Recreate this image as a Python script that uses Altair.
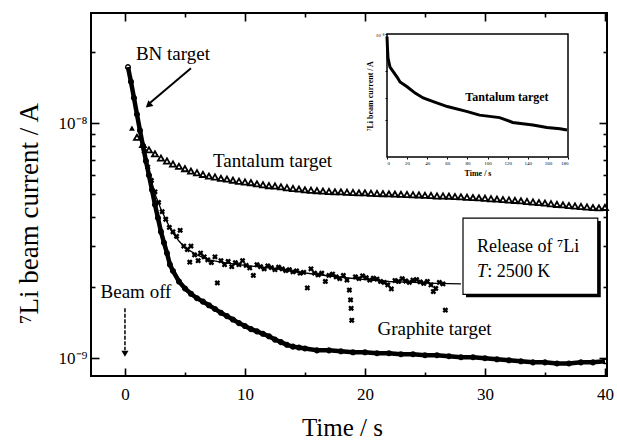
import altair as alt
import pandas as pd

FONT = "Liberation Serif"
W, H = 516, 363

# ---------------- data (currents in units of 1e-9 A) ----------------
# Tantalum target (open triangles)
ta_t = [1.0, 1.5, 2.0, 2.5, 3.0, 3.5, 4.0, 4.5, 5.0, 5.5,
        6.0, 6.5, 7.0, 7.5, 8.0, 8.5, 9.0, 9.5, 10.0, 10.5,
        11.0, 11.5, 12.0, 12.5, 13.0, 13.5, 14.0, 14.5, 15.0, 15.5,
        16.0, 16.5, 17.0, 17.5, 18.0, 18.5, 19.0, 19.5, 20.0, 20.5,
        21.0, 21.5, 22.0, 22.5, 23.0, 23.5, 24.0, 24.5, 25.0, 25.5,
        26.0, 26.5, 27.0, 27.5, 28.0, 28.5, 29.0, 29.5, 30.0, 30.5,
        31.0, 31.5, 32.0, 32.5, 33.0, 33.5, 34.0, 34.5, 35.0, 35.5,
        36.0, 36.5, 37.0, 37.5, 38.0, 38.5, 39.0, 39.5, 40.0]
ta_v = [8.7, 8.1, 7.7, 7.4, 7.1, 6.9, 6.7, 6.55, 6.4, 6.25,
        6.15, 6.05, 5.95, 5.9, 5.82, 5.78, 5.72, 5.66, 5.62, 5.58,
        5.52, 5.47, 5.42, 5.40, 5.36, 5.31, 5.27, 5.24, 5.20, 5.18,
        5.16, 5.14, 5.12, 5.10, 5.10, 5.08, 5.07, 5.05, 5.05, 5.03,
        5.02, 5.01, 5.00, 4.99, 4.98, 4.97, 4.96, 4.95, 4.93, 4.92,
        4.90, 4.90, 4.89, 4.87, 4.86, 4.84, 4.82, 4.81, 4.79, 4.77,
        4.75, 4.73, 4.71, 4.69, 4.67, 4.64, 4.62, 4.59, 4.57, 4.54,
        4.51, 4.49, 4.46, 4.44, 4.42, 4.40, 4.37, 4.36, 4.38]
ta_first_t = [0.58]
ta_first_v = [9.52]

# BN target: fitted line and scattered x markers
bn_fit_t = [0.25, 0.5, 0.75, 1.0, 1.25, 1.5, 1.75, 2.0, 2.5, 3.0, 3.5, 4.0, 4.5, 5.0,
            6.0, 7.0, 8.0, 9.0, 10.0, 12.0, 14.0, 16.0, 18.0, 20.0, 22.0, 24.0, 26.0, 28.0]
bn_fit_v = [17.3, 15.0, 12.8, 10.8, 9.2, 8.0, 6.9, 6.1, 5.0, 4.3, 3.8, 3.4, 3.15, 2.95,
            2.75, 2.62, 2.56, 2.52, 2.48, 2.42, 2.34, 2.27, 2.21, 2.16, 2.12, 2.10, 2.08, 2.07]
bn_t = [1.6, 1.9, 2.2, 2.5, 2.8, 3.1, 3.4, 3.7, 4.0, 4.3,
        4.6, 4.9, 5.2, 5.4, 5.5, 5.8, 6.1, 6.3, 6.6, 6.9,
        7.2, 7.5, 7.7, 8.0, 8.3, 8.6, 8.9, 9.2, 9.5, 9.8,
        10.1, 10.4, 10.7, 11.0, 11.3, 11.6, 11.9, 12.2, 12.5, 12.8,
        13.1, 13.4, 13.7, 14.0, 14.3, 14.6, 14.9, 15.2, 15.5, 15.8,
        16.1, 16.4, 16.7, 17.0, 17.3, 17.6, 17.9, 18.2, 18.5, 18.7,
        18.8, 18.85, 18.9, 19.2, 19.5, 19.8, 20.1, 20.4, 20.7, 21.0,
        21.3, 21.6, 21.9, 22.2, 22.5, 22.8, 23.1, 23.4, 23.7, 24.0,
        24.3, 24.6, 24.9, 25.2, 25.5, 25.7, 25.9, 26.2, 26.5, 26.7]
bn_v = [7.6, 6.5, 5.7, 5.1, 4.6, 4.2, 3.9, 3.6, 3.45, 3.3,
        3.5, 3.0, 2.9, 2.56, 3.0, 2.75, 2.6, 2.8, 2.7, 2.62,
        2.55, 2.7, 2.09, 2.6, 2.5, 2.58, 2.45, 2.55, 2.5, 2.6,
        2.48, 2.42, 2.25, 2.5, 2.45, 2.4, 2.47, 2.43, 2.38, 2.44,
        2.40, 2.36, 2.38, 2.33, 2.35, 2.30, 2.32, 1.99, 2.40, 2.30,
        2.26, 2.30, 2.12, 2.25, 2.28, 2.22, 2.18, 2.25, 2.15, 1.95,
        1.77, 1.63, 1.45, 2.22, 2.18, 2.24, 2.20, 2.15, 2.19, 2.17,
        2.12, 2.10, 2.05, 1.97, 2.14, 2.12, 2.18, 2.13, 2.10, 2.15,
        2.16, 2.11, 2.08, 2.12, 2.05, 1.92, 1.98, 2.10, 2.07, 1.60]

# Graphite target (dense open circles)
gr_t = [0.25, 0.5, 0.75, 1.0, 1.25, 1.5, 1.75, 2.0,
        2.25, 2.5, 2.75, 3.0, 3.25, 3.5, 3.75, 4.0,
        4.5, 5.0, 5.5, 6.0, 6.5, 7.0, 7.5, 8.0, 8.5, 9.0, 9.5, 10.0, 10.5, 11.0,
        11.5, 12.0, 12.5, 13.0, 13.5, 14.0, 14.5, 15.0,
        16.0, 17.0, 18.0, 19.0, 20.0, 21.0, 22.0, 23.0, 24.0, 25.0, 26.0, 27.0,
        28.0, 29.0, 30.0, 31.0, 32.0, 33.0, 34.0, 35.0, 36.0, 37.0, 38.0, 39.0, 40.0]
gr_v = [17.3, 15.0, 12.8, 10.9, 9.3, 8.0, 6.9, 6.0,
        5.2, 4.5, 3.95, 3.45, 3.1, 2.8, 2.5, 2.35,
        2.12, 1.98, 1.88, 1.80, 1.74, 1.68, 1.62, 1.56, 1.51, 1.46, 1.41, 1.37, 1.33, 1.30,
        1.27, 1.24, 1.20, 1.17, 1.14, 1.12, 1.11, 1.10,
        1.08, 1.08, 1.07, 1.06, 1.06, 1.05, 1.05, 1.04, 1.04, 1.03, 1.03, 1.02,
        1.01, 1.01, 1.00, 0.99, 0.98, 0.97, 0.96, 0.96, 0.95, 0.95, 0.96, 0.96, 0.97]

# Inset: tantalum target, long time scale
in_t = [0, 0.5, 1, 3, 10, 13, 20, 28, 36, 46, 60, 80, 92, 112, 125, 145, 159, 172, 179]
in_v = [9.55, 7.59, 6.38, 5.37, 4.47, 4.07, 3.72, 3.31, 3.02, 2.82, 2.57, 2.34, 2.19,
        2.09, 1.91, 1.82, 1.74, 1.70, 1.66]
in_xticks = [0, 20, 40, 60, 80, 100, 120, 140, 160, 180]
in_yticks = [2e-9, 3e-9, 5e-9, 1e-8]

# axes
x_domain = [-2.83, 40.17]
y_domain = [0.84e-9, 2.94e-8]
x_ticks = [0, 5, 10, 15, 20, 25, 30, 35, 40]
y_ticks = [1e-9, 2e-9, 3e-9, 4e-9, 5e-9, 6e-9, 7e-9, 8e-9, 9e-9, 1e-8, 2e-8]

# annotations
lab_text = ["BN target", "Tantalum target", "Graphite target", "Beam off"]
lab_t = [4.0, 12.3, 25.8, 0.92]
lab_v = [19.7, 6.89, 1.33, 1.91]

box_t = [28.17, 39.4]
box_v = [1.87, 3.94]
shadow_t = [28.42, 39.65]
shadow_v = [1.815, 3.83]


def nA(vals):
    return [v * 1e-9 for v in vals]


ta_df = pd.DataFrame({"t": ta_t, "v": nA(ta_v)})
ta1_df = pd.DataFrame({"t": ta_first_t, "v": nA(ta_first_v)})
bnf_df = pd.DataFrame({"t": bn_fit_t, "v": nA(bn_fit_v)})
bn_df = pd.DataFrame({"t": bn_t, "v": nA(bn_v)})
gr_df = pd.DataFrame({"t": gr_t, "v": nA(gr_v)})
in_df = pd.DataFrame({"t": in_t, "v": nA(in_v)})
lab_df = pd.DataFrame({"t": lab_t, "v": nA(lab_v), "label": lab_text})

xs = alt.Scale(domain=x_domain, nice=False, zero=False)
ys = alt.Scale(type="log", domain=y_domain, nice=False)

x_major = "datum.value % 10 === 0"
y_major = "datum.value === 1e-9 || datum.value === 1e-8"


def tick_axis(orient, offset, values, major):
    return alt.Axis(orient=orient, offset=offset, values=values, labels=False,
                    domain=False, grid=False, title=None,
                    tickSize={"condition": {"test": major, "value": 8}, "value": 4},
                    tickWidth=1.6, tickColor="black")


x_lab_axis = alt.Axis(orient="bottom", values=x_ticks, ticks=False, domain=False, grid=False,
                      labelExpr="datum.value % 10 === 0 ? datum.label : ''",
                      labelFont=FONT, labelFontSize=17, labelColor="black", labelPadding=10,
                      title="Time / s", titleFont=FONT, titleFontSize=25,
                      titleFontWeight="normal", titleColor="black",
                      titleX=251, titleY=51, titleBaseline="middle")
y_lab_axis = alt.Axis(orient="left", values=y_ticks, ticks=False, domain=False, grid=False,
                      labelExpr="datum.value === 1e-8 ? '10\u207b\u2078' : (datum.value === 1e-9 ? '10\u207b\u2079' : '')",
                      labelFont=FONT, labelFontSize=17, labelColor="black", labelPadding=4,
                      title="\u2077Li  beam current / A", titleFont=FONT, titleFontSize=27,
                      titleFontWeight="normal", titleColor="black",
                      titleX=-62, titleY=200, titleBaseline="middle")


def X(axis=None):
    return alt.X("t:Q", scale=xs, axis=axis)


def Y(axis=None):
    return alt.Y("v:Q", scale=ys, axis=axis)


tantalum = alt.Chart(ta_df).mark_point(shape="triangle-up", filled=False, size=36,
                                       color="black", strokeWidth=1.8, opacity=1).encode(
    x=X(x_lab_axis), y=Y(y_lab_axis))
tantalum_first = alt.Chart(ta1_df).mark_point(shape="triangle-up", filled=True, size=34,
                                              color="black", opacity=1).encode(x=X(), y=Y())
bn_line = alt.Chart(bnf_df).mark_line(color="black", strokeWidth=1.3).encode(
    x=X(tick_axis("bottom", -H, x_ticks, x_major)),
    y=Y(tick_axis("left", -W, y_ticks, y_major)))
bn_pts = alt.Chart(bn_df).mark_point(shape="cross", angle=45, filled=True, size=34,
                                     color="black", opacity=1).encode(x=X(), y=Y())
gr_line = alt.Chart(gr_df).mark_line(color="black", strokeWidth=4.5).encode(
    x=X(tick_axis("top", -H, x_ticks, x_major)),
    y=Y(tick_axis("right", -W, y_ticks, y_major)))
gr_pts = alt.Chart(gr_df).mark_point(shape="circle", filled=False, size=22,
                                     color="black", strokeWidth=1.4, opacity=1).encode(x=X(), y=Y())

labels = alt.Chart(lab_df).mark_text(font=FONT, fontSize=19, color="black",
                                     align="center", baseline="middle").encode(
    x=X(), y=Y(), text="label:N")

# arrows
bn_arrow_df = pd.DataFrame({"t": [5.5, 2.1], "v": nA([17.1, 12.2])})
bn_arrow = alt.Chart(bn_arrow_df).mark_line(color="black", strokeWidth=2).encode(x=X(), y=Y())
bn_head = alt.Chart(pd.DataFrame({"t": [1.95], "v": nA([11.9])})).mark_point(
    shape="triangle-up", filled=True, size=60, angle=229, color="black", opacity=1).encode(x=X(), y=Y())
bo_arrow_df = pd.DataFrame({"t": [0, 0], "v": nA([1.63, 1.08])})
bo_arrow = alt.Chart(bo_arrow_df).mark_line(color="black", strokeWidth=1.5,
                                            strokeDash=[4, 1.5]).encode(x=X(), y=Y())
bo_head = alt.Chart(pd.DataFrame({"t": [0], "v": nA([1.045])})).mark_point(
    shape="triangle-down", filled=True, size=50, color="black", opacity=1).encode(x=X(), y=Y())

# release box with shadow
shadow_df = pd.DataFrame({"t": [shadow_t[0]], "t2": [shadow_t[1]],
                          "v": [shadow_v[0] * 1e-9], "v2": [shadow_v[1] * 1e-9]})
box_df = pd.DataFrame({"t": [box_t[0]], "t2": [box_t[1]],
                       "v": [box_v[0] * 1e-9], "v2": [box_v[1] * 1e-9]})
shadow = alt.Chart(shadow_df).mark_rect(color="black").encode(
    x=X(), x2="t2:Q", y=Y(), y2="v2:Q")
box = alt.Chart(box_df).mark_rect(fill="white", stroke="black", strokeWidth=1.2).encode(
    x=X(), x2="t2:Q", y=Y(), y2="v2:Q")
rel1 = alt.Chart(pd.DataFrame({"t": [29.33], "v": [2.96e-9], "s": ["Release of \u2077Li"]})).mark_text(
    font=FONT, fontSize=18, color="black", align="left", baseline="middle").encode(
    x=X(), y=Y(), text="s:N")
rel2a = alt.Chart(pd.DataFrame({"t": [29.33], "v": [2.32e-9], "s": ["T"]})).mark_text(
    font=FONT, fontSize=18, fontStyle="italic", color="black", align="left",
    baseline="middle").encode(x=X(), y=Y(), text="s:N")
rel2b = alt.Chart(pd.DataFrame({"t": [30.2], "v": [2.32e-9], "s": [": 2500 K"]})).mark_text(
    font=FONT, fontSize=18, color="black", align="left", baseline="middle").encode(
    x=X(), y=Y(), text="s:N")

main = alt.layer(tantalum, bn_line, gr_line, gr_pts, bn_pts, tantalum_first,
                 labels, bn_arrow, bn_head, bo_arrow, bo_head,
                 shadow, box, rel1, rel2a, rel2b).resolve_axis(x="independent", y="independent")

# ---------------- inset ----------------
ixs = alt.Scale(domain=[0, 180], range=[296, 477], nice=False, zero=False)
iys = alt.Scale(type="log", domain=[1e-9, 1e-8], range=[144, 21], nice=False)
in_frame_df = pd.DataFrame({"t": [0], "t2": [180], "v": [1e-9], "v2": [1e-8]})
in_frame = alt.Chart(in_frame_df).mark_rect(fill="white", stroke="black", strokeWidth=1.5).encode(
    x=alt.X("t:Q", scale=ixs, axis=None), x2="t2:Q",
    y=alt.Y("v:Q", scale=iys, axis=None), y2="v2:Q")
in_line = alt.Chart(in_df).mark_line(color="black", strokeWidth=3).encode(
    x=alt.X("t:Q", scale=ixs, axis=alt.Axis(
        orient="bottom", offset=-(H - 144), values=in_xticks, domain=False, grid=False,
        zindex=3, tickSize=2, tickColor="black", labelFont=FONT, labelFontSize=5,
        labelPadding=1, labelColor="black", title="Time / s", titleFont=FONT,
        titleFontSize=8, titleFontWeight="bold", titlePadding=4, titleColor="black")),
    y=alt.Y("v:Q", scale=iys, axis=alt.Axis(
        orient="left", offset=-296, values=in_yticks, domain=False, grid=False,
        zindex=3, tickSize=2, tickColor="black",
        labelExpr="datum.value === 1e-8 ? '10\u207b\u2078' : ''",
        labelFont=FONT, labelFontSize=5, labelPadding=1, labelColor="black",
        title="\u2077Li beam current / A", titleFont=FONT, titleFontSize=8,
        titleFontWeight="bold", titlePadding=1, titleColor="black")))
in_text = alt.Chart(pd.DataFrame({"t": [119.3], "v": [3.08e-9], "s": ["Tantalum target"]})).mark_text(
    font=FONT, fontSize=12, fontWeight="bold", color="black", align="center",
    baseline="middle").encode(
    x=alt.X("t:Q", scale=ixs, axis=None), y=alt.Y("v:Q", scale=iys, axis=None), text="s:N")
inset = alt.layer(in_frame, in_line, in_text).resolve_axis(x="independent", y="independent")

chart = alt.layer(main, inset).resolve_scale(x="independent", y="independent").resolve_axis(
    x="independent", y="independent").properties(
    width=W, height=H,
    autosize=alt.AutoSizeParams(type="none"),
    padding={"left": 91, "top": 13, "right": 10, "bottom": 68},
    background="white",
).configure_view(stroke="black", strokeWidth=2).configure_axis(grid=False).configure_text(font=FONT)

chart.save("out.html", embed_options={"renderer": "svg", "actions": False})
